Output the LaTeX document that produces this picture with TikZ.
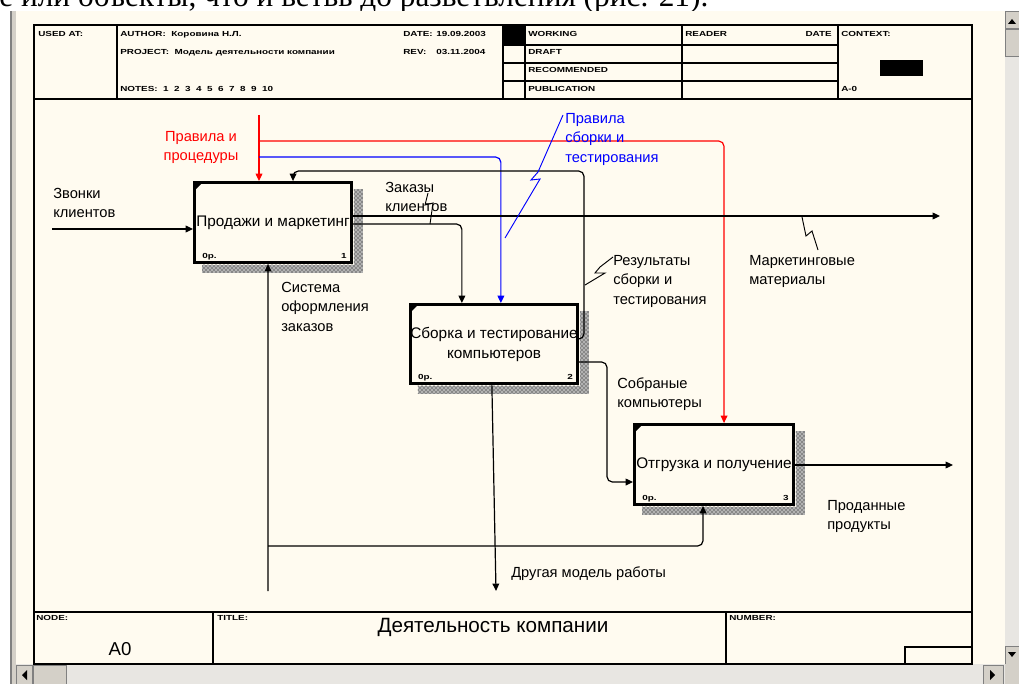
\documentclass[tikz,border=0pt]{standalone}
\usepackage{fontspec}
\usepackage{graphicx}
\setmainfont{Liberation Sans}
\newfontfamily\docserif{Liberation Serif}
\usetikzlibrary{arrows.meta,patterns,calc}
\definecolor{paper}{RGB}{255,251,240}
\definecolor{winGray}{RGB}{212,208,200}
\definecolor{trackGray}{RGB}{232,230,226}
\newcommand{\hdr}[1]{\scalebox{1.35}[1]{#1}}
\begin{document}
\begin{tikzpicture}[x=0.75pt,y=-0.75pt,
  box/.style={draw, line width=2.2pt, fill=paper, inner sep=0pt, align=center, font=\fontsize{11.5}{15}\selectfont},
  conn/.style={line width=0.9pt, rounded corners=4pt},
  tipd/.style={-{Triangle[length=5.5pt,width=5pt]}},
  lbl/.style={inner sep=0pt, anchor=north west, align=left, font=\fontsize{11}{14.6}\selectfont},
  tiny/.style={inner sep=0pt, anchor=base west, font=\fontsize{5.5}{6}\bfseries},
  tinyE/.style={inner sep=0pt, anchor=base east, font=\fontsize{5.5}{6}\bfseries},
  shade/.style={fill=black!30, postaction={pattern=crosshatch dots, pattern color=black}},
  zig/.style={line width=0.7pt},
  frame/.style={line width=1.3pt}
]
\useasboundingbox (0,0) rectangle (1019,684);
% ---- page / window chrome
\fill[white] (0,0) rectangle (1019,684);
\node[inner sep=0pt, anchor=base west, font=\docserif\fontsize{23.5}{27}\selectfont] (doctext) at (-1,6.5) {е или объекты, что и ветвь до разветвления (рис. 21).};
\fill[paper] (16,11) rectangle (1005,664);
\fill[winGray] (10,11) rectangle (16,684);
\fill[gray] (10,11) rectangle (12,684);
% right scrollbar
\fill[trackGray] (1005,11) rectangle (1019,664);
\filldraw[fill=winGray, draw=gray, line width=0.4pt] (1005,11) rectangle (1019,28);
\fill (1008,24) -- (1016,24) -- (1012,19) -- cycle;
\filldraw[fill=winGray, draw=gray, line width=0.4pt] (1005,29) rectangle (1019,56);
\filldraw[fill=winGray, draw=gray, line width=0.4pt] (1005,646) rectangle (1019,664);
\fill (1008,652) -- (1016,652) -- (1012,657) -- cycle;
% bottom scrollbar
\fill[trackGray] (16,664) rectangle (1005,684);
\filldraw[fill=winGray, draw=gray, line width=0.4pt] (16,665) rectangle (32,684);
\fill (22,675) -- (27,670) -- (27,680) -- cycle;
\filldraw[fill=winGray, draw=gray, line width=0.4pt] (33,665) rectangle (66,684);
\filldraw[fill=winGray, draw=gray, line width=0.4pt] (983,665) rectangle (1003,684);
\fill (995,675) -- (990,670) -- (990,680) -- cycle;
\fill[winGray] (1005,664) rectangle (1019,684);
% ---- frame
\draw[frame] (34,25) rectangle (972,664);
\draw[frame] (34,99) -- (972,99);
\draw[frame] (34,612) -- (972,612);
\draw[frame] (117,25) -- (117,99);
\draw[frame] (503,25) -- (503,99);
\draw[frame] (525,25) -- (525,99);
\draw[frame] (682,25) -- (682,99);
\draw[frame] (838,25) -- (838,99);
\foreach \yy in {45,63,81} {\draw[frame] (503,\yy) -- (838,\yy);}
\fill (503,25) rectangle (525,45);
\fill (880,60) rectangle (923,76);
\draw[frame] (213,612) -- (213,664);
\draw[frame] (726,612) -- (726,664);
\draw[frame] (905,647) rectangle (972,664);
% header texts
\node[tiny] (hUsed) at (38,37) {\hdr{USED AT:}};
\node[tiny] (hAuth) at (120,37) {\hdr{AUTHOR:\ \ Коровина Н.Л.}};
\node[tiny] (hDate) at (403,37) {\hdr{DATE:}};
\node[tiny] (hDateV) at (436,37) {\hdr{19.09.2003}};
\node[tiny] (hProj) at (120,55) {\hdr{PROJECT:\ \ Модель деятельности компании}};
\node[tiny] (hRev) at (403,55) {\hdr{REV:}};
\node[tiny] (hRevV) at (436,55) {\hdr{03.11.2004}};
\node[tiny] (hNotes) at (120,92) {\hdr{NOTES:\ \ 1\ \ 2\ \ 3\ \ 4\ \ 5\ \ 6\ \ 7\ \ 8\ \ 9\ \ 10}};
\node[tiny] (hWork) at (528,37) {\hdr{WORKING}};
\node[tiny] (hDraft) at (528,55) {\hdr{DRAFT}};
\node[tiny] (hRec) at (528,73) {\hdr{RECOMMENDED}};
\node[tiny] (hPub) at (528,92) {\hdr{PUBLICATION}};
\node[tiny] (hRead) at (685,37) {\hdr{READER}};
\node[tinyE] (hDate2) at (832,37) {\hdr{DATE}};
\node[tiny] (hCtx) at (841,37) {\hdr{CONTEXT:}};
\node[tiny] (hA0) at (841,92) {\hdr{A-0}};
\node[tiny] (fNode) at (36,620) {\hdr{NODE:}};
\node[tiny] (fTitle) at (217,620) {\hdr{TITLE:}};
\node[tiny] (fNum) at (729,620) {\hdr{NUMBER:}};
\node[inner sep=0pt, anchor=base, font=\fontsize{15.5}{18}\selectfont] (title) at (493,632) {Деятельность компании};
\node[inner sep=0pt, anchor=base, font=\fontsize{14}{16}\selectfont] (nodeA0) at (120,655) {A0};
% ---- activity boxes
\node[box, minimum width=117.75pt, minimum height=60pt] (b1) at (273,222.5) {Продажи и маркетинг};
\node[box, minimum width=119.25pt, minimum height=59.25pt] (b2) at (494,344) {Сборка и тестирование\\компьютеров};
\node[box, minimum width=119.25pt, minimum height=60pt] (b3) at (714,464.5) {Отгрузка и получение};
% shadows
\foreach \b in {b1,b2,b3} {
  \fill[shade] ($(\b.north east)+(1,8)$) rectangle ($(\b.south east)+(10,9)$);
  \fill[shade] ($(\b.south west)+(9,1)$) rectangle ($(\b.south east)+(1,9)$);
  \fill ($(\b.north west)+(1.5,1.5)$) -- ++(8,0) -- ++(-8,8) -- cycle;
  \node[tiny] at ($(\b.south west)+(9,-5)$) {\hdr{0p.}};
}
\node[tinyE] (n1) at ($(b1.south east)+(-6,-5)$) {\hdr{1}};
\node[tinyE] (n2) at ($(b2.south east)+(-6,-5)$) {\hdr{2}};
\node[tinyE] (n3) at ($(b3.south east)+(-6,-5)$) {\hdr{3}};
% ---- connectors
\coordinate (inS) at (52,229);
\draw[conn,tipd] (inS) -- (inS -| b1.west);
\coordinate (ctlS) at (259,115);
\coordinate (ctlB) at (259,141);
\coordinate (blB) at (259,157);
\draw[conn,red,tipd] (ctlS) -- (ctlS |- b1.north);
\coordinate (r3) at ($(b3.north west)+(91,0)$);
\draw[conn,red,tipd] (ctlB) -- (ctlB -| r3) -- (r3);
\coordinate (bl2) at ($(b2.north west)+(92,0)$);
\draw[conn,blue,tipd] (blB) -- (blB -| bl2) -- (bl2);
\coordinate (fbO) at ($(b2.east)+(0,-5)$);
\coordinate (fbI) at ($(b1.north west)+(100,0)$);
\coordinate (fbR) at (584,171);
\draw[conn,tipd] (fbO) -- (fbO -| fbR) -- (fbR) -- (fbR -| fbI) -- (fbI);
\coordinate (mkE) at (940,216);
\draw[conn,tipd] (mkE -| b1.east) -- (mkE);
\coordinate (zkO) at ($(b1.east)+(0,1.5)$);
\coordinate (zk2) at ($(b2.north west)+(53,0)$);
\draw[conn,tipd] (zkO) -- (zkO -| zk2) -- (zk2);
\coordinate (meS) at (268,591);
\coordinate (me1) at ($(b1.south west)+(75,0)$);
\draw[conn,tipd] (meS) -- (me1);
\coordinate (meB) at (268,546);
\coordinate (me3) at ($(b3.south west)+(70,0)$);
\draw[conn,tipd] (meB) -- (meB -| me3) -- (me3);
\coordinate (oc2) at ($(b2.south west)+(83,0)$);
\coordinate (ocE) at (496,591);
\draw[conn,tipd] (oc2) -- (ocE);
\coordinate (sbO) at ($(b2.east)+(0,18)$);
\coordinate (sbI) at ($(b3.west)+(0,17.5)$);
\coordinate (sbK) at (607,362);
\draw[conn,tipd] (sbO) -- (sbK) |- (sbI);
\coordinate (prE) at (953,465);
\draw[conn,tipd] (prE -| b3.east) -- (prE);
% squiggles
\draw[zig] (428,193) -- (425,205) -- (433,203) -- (430,224);
\draw[zig] (802,217) -- (806,236) -- (812,231) -- (818,250);
\draw[zig,blue] (563,115) -- (538,172) -- (531,180) -- (540,179) -- (505,238);
\draw[zig] (613,257) -- (600,267) -- (595,273) -- (605,273) -- (585,285);
% labels
\node[lbl] (lCalls) at (53,188) {Звонки\\клиентов};
\node[lbl, anchor=north, align=center, text=red] (lRules) at (201,131) {Правила и\\процедуры};
\node[lbl, text=blue] (lAsmRules) at (565,113) {Правила\\сборки и\\тестирования};
\node[lbl] (lOrders) at (385,182) {Заказы\\клиентов};
\node[lbl] (lResults) at (613,255) {Результаты\\сборки и\\тестирования};
\node[lbl] (lMkt) at (749,255) {Маркетинговые\\материалы};
\node[lbl] (lSys) at (281,282) {Система\\оформления\\заказов};
\node[lbl] (lBuilt) at (617,377) {Собраные\\компьютеры};
\node[lbl] (lOther) at (511,566) {Другая модель работы};
\node[lbl] (lSold) at (827,500) {Проданные\\продукты};
\end{tikzpicture}
\end{document}
